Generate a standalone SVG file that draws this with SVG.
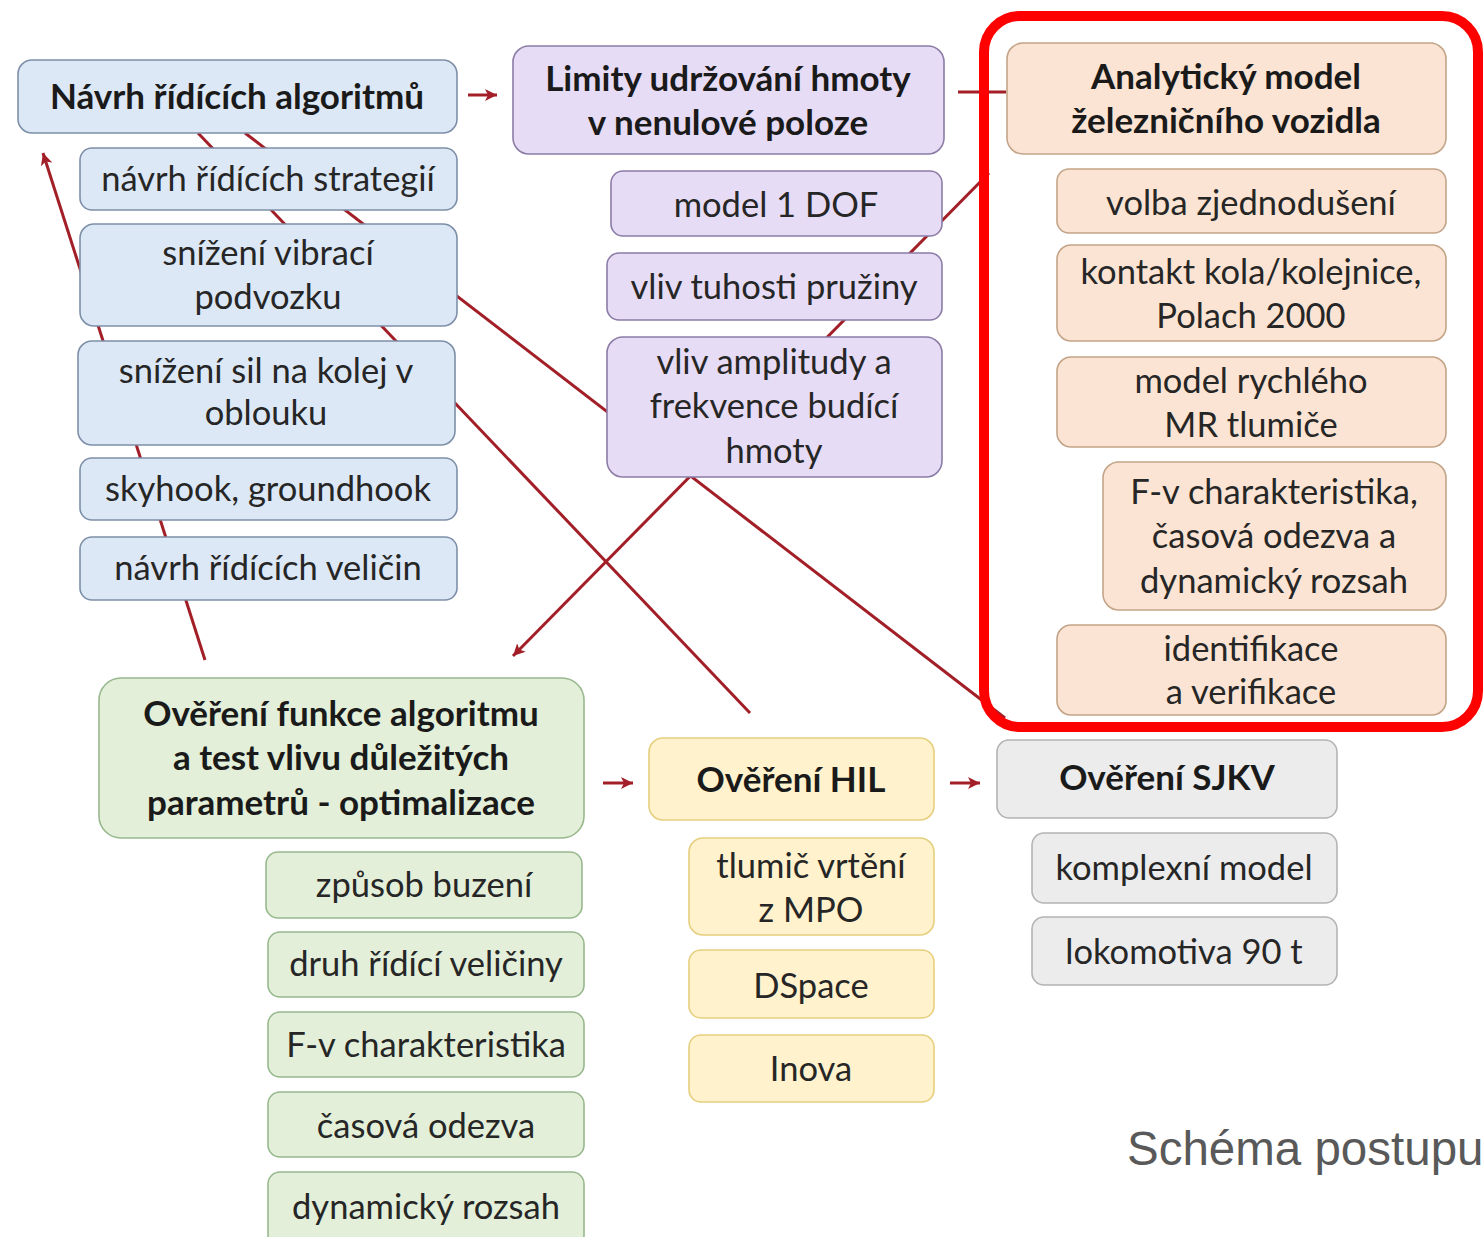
<svg xmlns="http://www.w3.org/2000/svg" width="1483" height="1237" viewBox="0 0 1483 1237">
<style>
  .t { font-family: Lato, "Open Sans", "DejaVu Sans", sans-serif; font-size: 34.5px; fill: #262626; text-anchor: middle; }
  .b { font-weight: bold; font-size: 35px; fill: #1a1a1a; }
  .blue rect { fill: #dde8f6; stroke: #7d8fa8; stroke-width: 1.6; }
  .purple rect { fill: #e7dcf5; stroke: #8b7ca6; stroke-width: 1.6; }
  .orange rect { fill: #fbe4d3; stroke: #c3a488; stroke-width: 1.6; }
  .green rect { fill: #e3efd9; stroke: #98b88e; stroke-width: 1.6; }
  .yellow rect { fill: #fff2cc; stroke: #e6cf7e; stroke-width: 1.6; }
  .grey rect { fill: #ececec; stroke: #b3b3b3; stroke-width: 1.6; }
  .c { stroke: #a21f28; stroke-width: 3; fill: none; }
</style>
<defs>
  <marker id="ah" markerUnits="userSpaceOnUse" markerWidth="14" markerHeight="12" refX="12" refY="6" orient="auto">
    <path d="M0,0 L12,6 L0,12 L3,6 Z" fill="#a21f28"/>
  </marker>
</defs>
<rect width="1483" height="1237" fill="#ffffff"/>
<g id="connectors">
  <path class="c" d="M468,95 L497,95" marker-end="url(#ah)"/>
  <path class="c" d="M958,92 L1006,92"/>
  <path class="c" d="M603,783 L633,783" marker-end="url(#ah)"/>
  <path class="c" d="M950,783 L980,783" marker-end="url(#ah)"/>
  <path class="c" d="M205,660 L43,153" marker-end="url(#ah)"/>
  <path class="c" d="M198,133 L750,713"/>
  <path class="c" d="M245,133 L1005,718"/>
  <path class="c" d="M989,173 L513,656" marker-end="url(#ah)"/>
</g>
<g id="n-navrh" class="blue"><rect x="18" y="60" width="439" height="73" rx="14"/><text class="t b" x="237" y="109">Návrh řídících algoritmů</text></g>
<g id="n-strategii" class="blue"><rect x="80" y="148" width="377" height="62" rx="12"/><text class="t" x="268" y="191">návrh řídících strategií</text></g>
<g id="n-vibraci" class="blue"><rect x="80" y="224" width="377" height="102" rx="14"/><text class="t" x="268" y="265">snížení vibrací</text><text class="t" x="268" y="309">podvozku</text></g>
<g id="n-sil" class="blue"><rect x="78" y="341" width="377" height="104" rx="14"/><text class="t" x="266" y="383">snížení sil na kolej v</text><text class="t" x="266" y="425">oblouku</text></g>
<g id="n-skyhook" class="blue"><rect x="80" y="458" width="377" height="62" rx="12"/><text class="t" x="268" y="501">skyhook, groundhook</text></g>
<g id="n-velicin" class="blue"><rect x="80" y="537" width="377" height="63" rx="12"/><text class="t" x="268" y="580">návrh řídících veličin</text></g>

<g id="n-limity" class="purple"><rect x="513" y="46" width="431" height="108" rx="16"/><text class="t b" x="728" y="91">Limity udržování hmoty</text><text class="t b" x="728" y="135">v nenulové poloze</text></g>
<g id="n-dof" class="purple"><rect x="611" y="171" width="331" height="65" rx="12"/><text class="t" x="776" y="217">model 1 DOF</text></g>
<g id="n-tuhost" class="purple"><rect x="607" y="253" width="335" height="67" rx="12"/><text class="t" x="774" y="299">vliv tuhosti pružiny</text></g>
<g id="n-amplituda" class="purple"><rect x="607" y="337" width="335" height="140" rx="16"/><text class="t" x="774" y="374">vliv amplitudy a</text><text class="t" x="774" y="418">frekvence budící</text><text class="t" x="774" y="463">hmoty</text></g>

<g id="n-analyticky" class="orange"><rect x="1007" y="43" width="439" height="111" rx="16"/><text class="t b" x="1226" y="89">Analytický model</text><text class="t b" x="1226" y="133">železničního vozidla</text></g>
<g id="n-volba" class="orange"><rect x="1057" y="169" width="389" height="64" rx="12"/><text class="t" x="1251" y="215">volba zjednodušení</text></g>
<g id="n-kontakt" class="orange"><rect x="1057" y="245" width="389" height="96" rx="14"/><text class="t" x="1251" y="284">kontakt kola/kolejnice,</text><text class="t" x="1251" y="328">Polach 2000</text></g>
<g id="n-mr" class="orange"><rect x="1057" y="357" width="389" height="90" rx="14"/><text class="t" x="1251" y="393">model rychlého</text><text class="t" x="1251" y="437">MR tlumiče</text></g>
<g id="n-fv1" class="orange"><rect x="1103" y="462" width="343" height="148" rx="16"/><text class="t" x="1274" y="504">F-v charakteristika,</text><text class="t" x="1274" y="548">časová odezva a</text><text class="t" x="1274" y="593">dynamický rozsah</text></g>
<g id="n-ident" class="orange"><rect x="1057" y="625" width="389" height="90" rx="14"/><text class="t" x="1251" y="661">identifikace</text><text class="t" x="1251" y="704">a verifikace</text></g>

<g id="n-overeni" class="green"><rect x="99" y="678" width="485" height="160" rx="22"/><text class="t b" x="341" y="726">Ověření funkce algoritmu</text><text class="t b" x="341" y="770">a test vlivu důležitých</text><text class="t b" x="341" y="815">parametrů - optimalizace</text></g>
<g id="n-buzeni" class="green"><rect x="266" y="852" width="316" height="66" rx="12"/><text class="t" x="424" y="897">způsob buzení</text></g>
<g id="n-druh" class="green"><rect x="268" y="932" width="316" height="65" rx="12"/><text class="t" x="426" y="976">druh řídící veličiny</text></g>
<g id="n-fv2" class="green"><rect x="268" y="1012" width="316" height="65" rx="12"/><text class="t" x="426" y="1057">F-v charakteristika</text></g>
<g id="n-casova" class="green"><rect x="268" y="1092" width="316" height="65" rx="12"/><text class="t" x="426" y="1138">časová odezva</text></g>
<g id="n-dynamicky" class="green"><rect x="268" y="1172" width="316" height="75" rx="12"/><text class="t" x="426" y="1219">dynamický rozsah</text></g>

<g id="n-hil" class="yellow"><rect x="649" y="738" width="285" height="82" rx="14"/><text class="t b" x="791" y="792">Ověření HIL</text></g>
<g id="n-tlumic" class="yellow"><rect x="689" y="838" width="245" height="97" rx="14"/><text class="t" x="811" y="878">tlumič vrtění</text><text class="t" x="811" y="922">z MPO</text></g>
<g id="n-dspace" class="yellow"><rect x="689" y="950" width="245" height="68" rx="12"/><text class="t" x="811" y="998">DSpace</text></g>
<g id="n-inova" class="yellow"><rect x="689" y="1035" width="245" height="67" rx="12"/><text class="t" x="811" y="1081">Inova</text></g>

<g id="n-sjkv" class="grey"><rect x="997" y="740" width="340" height="78" rx="12"/><text class="t b" x="1167" y="790">Ověření SJKV</text></g>
<g id="n-komplex" class="grey"><rect x="1032" y="833" width="305" height="70" rx="12"/><text class="t" x="1184" y="880">komplexní model</text></g>
<g id="n-loko" class="grey"><rect x="1032" y="917" width="305" height="68" rx="12"/><text class="t" x="1184" y="964">lokomotiva 90 t</text></g>

<rect id="highlight" x="984" y="16" width="494" height="711" rx="36" fill="none" stroke="#ff0000" stroke-width="10"/>
<text id="caption" x="1127" y="1165" font-family="'Liberation Sans', Arial, sans-serif" font-size="47.5" fill="#595959">Schéma postupu</text>
</svg>
